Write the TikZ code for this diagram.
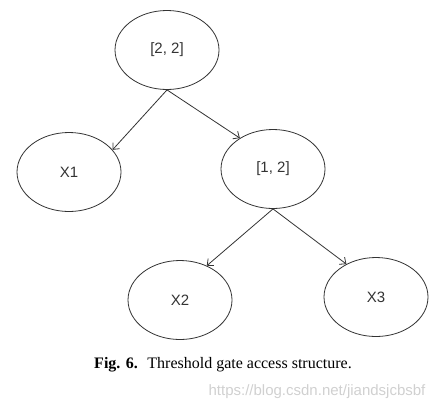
\documentclass[tikz,border=0pt]{standalone}
\usepackage{fontspec}
\setmainfont{Liberation Serif}
\newfontfamily\arialfont{Liberation Sans}
\usetikzlibrary{arrows.meta,shapes.geometric}
\definecolor{linegray}{HTML}{333333}
\definecolor{wmgray}{HTML}{D0D0D0}
\tikzset{
  treenode/.style={ellipse, draw=linegray, line width=0.8pt, minimum width=104pt, minimum height=79pt, inner sep=0pt,
    font=\arialfont\fontsize{15}{17}\selectfont, text=linegray},
  edge/.style={draw=linegray, line width=0.8pt, -{Straight Barb[length=5pt,width=9pt]}}
}
\begin{document}
\begin{tikzpicture}[x=1pt,y=-1pt]
\useasboundingbox (0,0) rectangle (446,402);
\node[treenode] (root) at (167,50) {[2, 2]};
\node[treenode] (x1) at (69,172) {X1};
\node[treenode] (g12) at (273,169) {[1, 2]};
\node[treenode] (x2) at (180,300) {X2};
\node[treenode] (x3) at (376,297) {X3};
\draw[edge] (root.south) -- (x1.27);
\draw[edge] (root.south) -- (g12.137);
\draw[edge] (g12.south) -- (x2.52);
\draw[edge] (g12.south) -- (x3.132);
\node[font=\fontsize{16}{18}\selectfont, anchor=center] (cap) at (223,365) {\textbf{Fig. 6.}\hspace{0.6em}Threshold gate access structure.};
\node[font=\arialfont\fontsize{15}{17}\selectfont, text=wmgray, anchor=center] (wm) at (317,392) {https://blog.csdn.net/jiandsjcbsbf};
\end{tikzpicture}
\end{document}
